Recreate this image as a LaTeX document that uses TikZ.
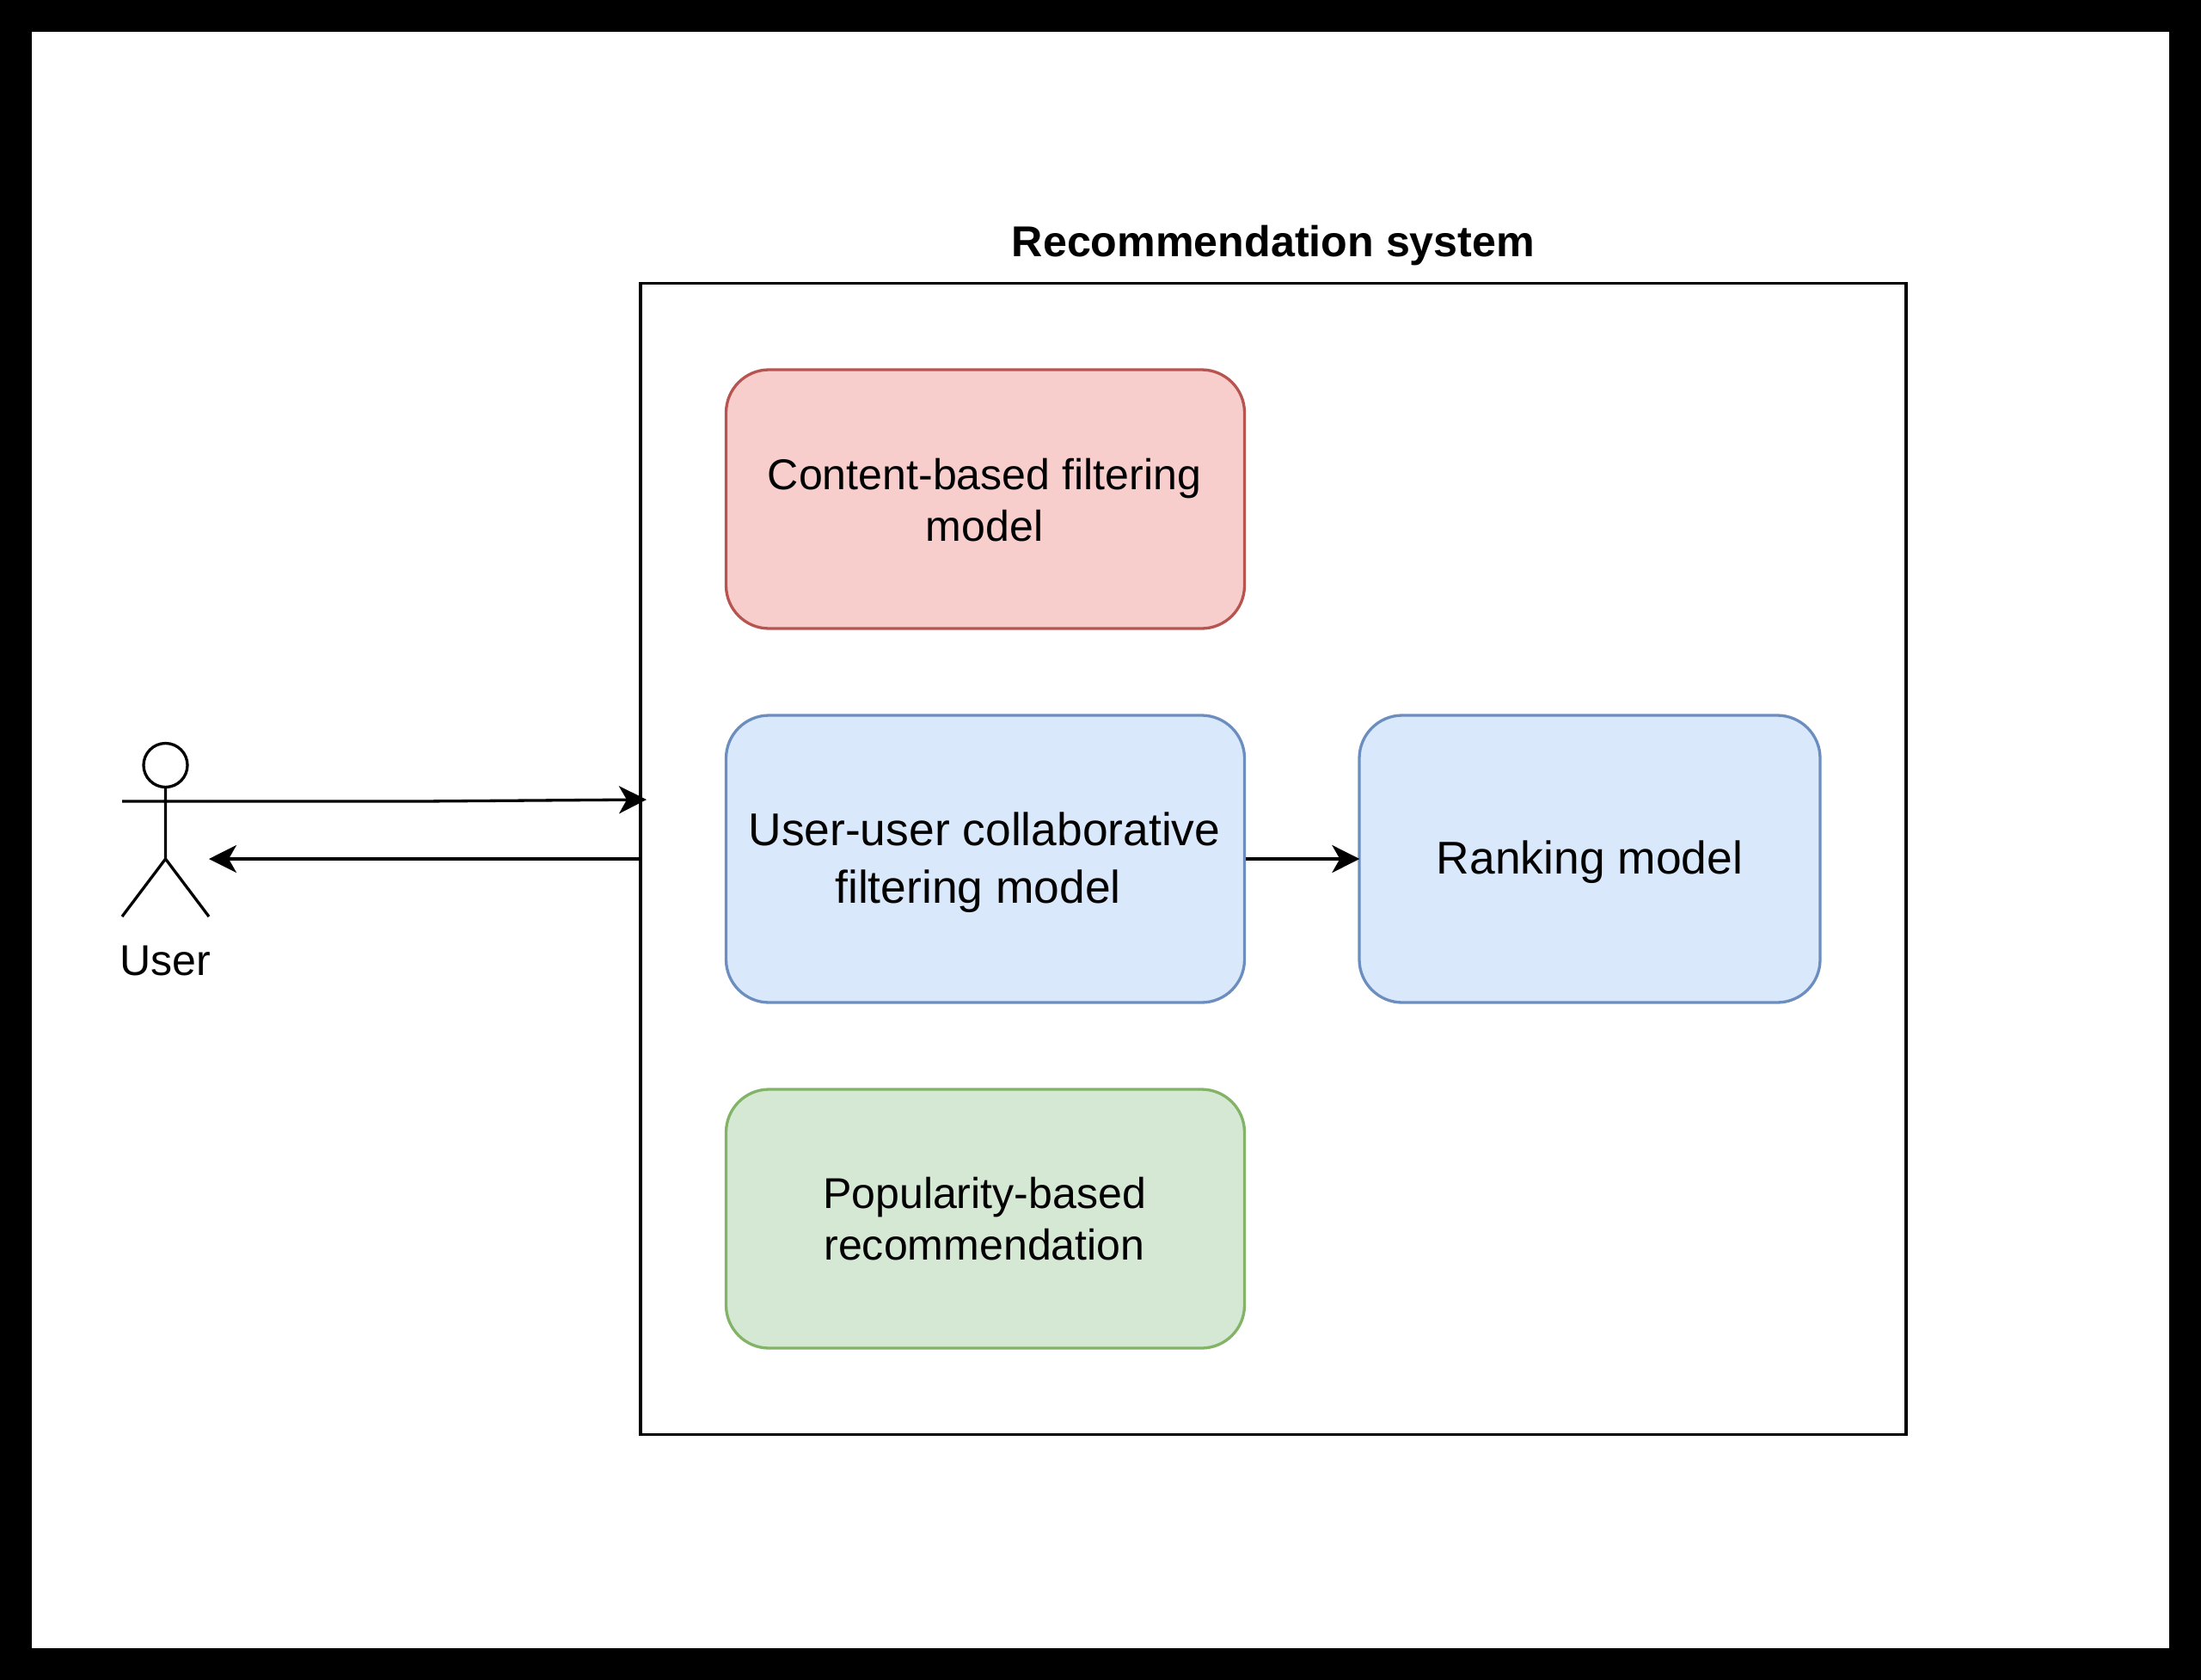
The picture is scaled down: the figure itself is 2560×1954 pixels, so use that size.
\documentclass[tikz,border=0pt]{standalone}
\usepackage{fontspec}
\setmainfont{Liberation Sans}
\usetikzlibrary{arrows.meta,calc,positioning}
\definecolor{redfill}{HTML}{F8CECC}\definecolor{redline}{HTML}{B85450}
\definecolor{bluefill}{HTML}{DAE8FC}\definecolor{blueline}{HTML}{6C8EBF}
\definecolor{greenfill}{HTML}{D5E8D4}\definecolor{greenline}{HTML}{82B366}
\tikzset{
  x=1pt,y=-1pt,
  stroke/.style={line width=3.3pt,black},
  model/.style={draw,line width=3.3pt,rounded corners=50pt,inner sep=0pt},
  redbox/.style={model,fill=redfill,draw=redline,minimum width=603pt,minimum height=301pt},
  greenbox/.style={model,fill=greenfill,draw=greenline,minimum width=603pt,minimum height=301pt},
  bluebox/.style={model,fill=bluefill,draw=blueline,minimum height=334pt},
  txt/.style={font=\fontsize{50.1}{60}\selectfont,align=center,inner sep=0pt,text=black},
  txtbig/.style={font=\fontsize{53.4}{67}\selectfont,align=center,inner sep=0pt,text=black},
  conn/.style={stroke,-{Stealth[length=32pt,width=32pt,inset=9pt]}},
}
\begin{document}
\begin{tikzpicture}
\useasboundingbox (0,0) rectangle (2560,1954);
\fill[black] (0,0) rectangle (2560,1954);
\fill[white] (36.5,36.5) rectangle (2523,1917);
\node[draw,stroke,inner sep=0pt,minimum width=1472pt,minimum height=1339pt] (outer) at (1481,999) {};
\node[font=\bfseries\fontsize{50.2}{60}\selectfont,anchor=base,text=black] (title) at (1481,298) {Recommendation system};
\node[redbox] (content) at (1146,580.5) {};
\node[txt] (contentlabel) at ($(content)+(-1,1)$) {Content-based filtering\\model};
\node[bluebox,minimum width=603pt] (cf) at (1146,999) {};
\node[txtbig] (cflabel) at ($(cf)+(-1,4)$) {User-user collaborative\\filtering model\rule{15pt}{0pt}};
\node[bluebox,minimum width=536pt] (rank) at (1849,999) {};
\node[txtbig] (ranklabel) at ($(rank)+(0,4)$) {Ranking model};
\node[greenbox] (pop) at (1146,1417.5) {};
\node[txt] (poplabel) at ($(pop)+(-1,0)$) {Popularity-based\\recommendation};
\node[draw,stroke,circle,inner sep=0pt,minimum size=51pt] (head) at (192.5,890) {};
\coordinate (neck) at (head.south);
\coordinate (armL) at (142,932);
\coordinate (armR) at (243,932);
\coordinate (hip) at (192.5,999);
\coordinate (footL) at (142,1066);
\coordinate (footR) at (243,1066);
\node[txt,anchor=base] (user) at (192.5,1134) {User};
\draw[stroke] (neck) -- (hip) (armL) -- (armR) (footL) -- (hip) -- (footR);
\coordinate (kink) at (490,932);
\coordinate (inTip) at (752,930);
\coordinate (retTip) at (243,999);
\draw[conn] (armR) -- (kink) -- (inTip);
\draw[conn] (outer.west) -- (retTip);
\draw[conn,shorten >=-2pt] (cf.east) -- (rank.west);
\end{tikzpicture}
\end{document}
